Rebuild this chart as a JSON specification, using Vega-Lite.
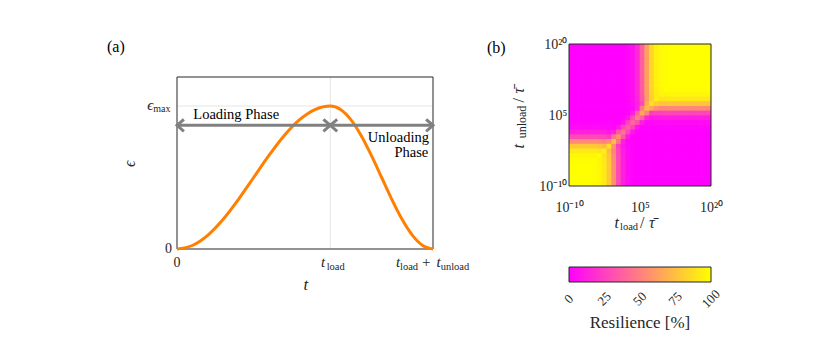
{
"$schema":"https://vega.github.io/schema/vega-lite/v6.json",
"background":"white",
"padding":{"left":107,"top":37,"right":5,"bottom":5},
"autosize":{"type":"pad"},
"bounds":"flush",
"spacing":136,
"config":{"view":{"stroke":null},"text":{"font":"Liberation Serif","color":"#262626"},"axis":{"labelFont":"Liberation Serif","labelColor":"#262626"}},
"resolve":{"scale":{"color":"independent"},"legend":{"color":"independent"}},
"hconcat":[
{
"width":256,"height":205,
"encoding":{
"x":{"type":"quantitative","scale":{"domain":[0,1.67],"nice":false,"zero":false},"axis":null},
"y":{"type":"quantitative","scale":{"domain":[0,1.4336],"nice":false,"zero":false},"axis":null}
},
"layer":[
{"data":{"values":[{}]},"mark":{"type":"rule","color":"#dedede","strokeWidth":0.8},"encoding":{"x":{"datum":1},"y":{"datum":0},"y2":{"datum":1.2028}}},
{"data":{"values":[{}]},"mark":{"type":"rule","color":"#dedede","strokeWidth":0.8},"encoding":{"x":{"datum":0},"x2":{"datum":1.67},"y":{"datum":1}}},
{"data":{"values":[{}]},"mark":{"type":"rect","fillOpacity":0,"stroke":"#262626","strokeWidth":1},"encoding":{"x":{"datum":0},"x2":{"datum":1.67},"y":{"datum":0},"y2":{"datum":1.2028}}},
{"data":{"values":[{"t":0,"e":0},{"t":0.1,"e":0.0245},{"t":0.2,"e":0.0955},{"t":0.3,"e":0.2061},{"t":0.4,"e":0.3455},{"t":0.5,"e":0.5},{"t":0.6,"e":0.6545},{"t":0.7,"e":0.7939},{"t":0.8,"e":0.9045},{"t":0.9,"e":0.9755},{"t":1,"e":1},{"t":1.067,"e":0.9755},{"t":1.134,"e":0.9045},{"t":1.201,"e":0.7939},{"t":1.268,"e":0.6545},{"t":1.335,"e":0.5},{"t":1.402,"e":0.3455},{"t":1.469,"e":0.2061},{"t":1.536,"e":0.0955},{"t":1.603,"e":0.0245},{"t":1.67,"e":0}]},
 "mark":{"type":"line","color":"#ff8000","strokeWidth":3,"interpolate":"monotone"},"encoding":{"x":{"field":"t"},"y":{"field":"e"}}},
{"data":{"values":[{}]},"mark":{"type":"rule","color":"#808080","strokeWidth":3},"encoding":{"x":{"datum":0},"x2":{"datum":1},"y":{"datum":0.865}}},
{"data":{"values":[{}]},"mark":{"type":"rule","color":"#808080","strokeWidth":3},"encoding":{"x":{"datum":1},"x2":{"datum":1.67},"y":{"datum":0.865}}},
{"data":{"values":[{}]},"mark":{"type":"point","shape":"M1.15,-1L0,0L1.15,1","size":144,"filled":false,"color":"#808080","strokeWidth":3,"opacity":1},"encoding":{"x":{"datum":0},"y":{"datum":0.865}}},
{"data":{"values":[{}]},"mark":{"type":"point","shape":"M-1.15,-1L0,0L-1.15,1","size":144,"filled":false,"color":"#808080","strokeWidth":3,"opacity":1},"encoding":{"x":{"datum":1},"y":{"datum":0.865}}},
{"data":{"values":[{}]},"mark":{"type":"point","shape":"M1.15,-1L0,0L1.15,1","size":144,"filled":false,"color":"#808080","strokeWidth":3,"opacity":1},"encoding":{"x":{"datum":1},"y":{"datum":0.865}}},
{"data":{"values":[{}]},"mark":{"type":"point","shape":"M-1.15,-1L0,0L-1.15,1","size":144,"filled":false,"color":"#808080","strokeWidth":3,"opacity":1},"encoding":{"x":{"datum":1.67},"y":{"datum":0.865}}},
{"data":{"values":[{}]},"mark":{"type":"text","text":"(a)","fontSize":16,"align":"left","baseline":"middle","dx":-70,"dy":-30,"color":"#000000"},"encoding":{"x":{"datum":0},"y":{"datum":1.2028}}},
{"data":{"values":[{}]},"mark":{"type":"text","text":"Loading Phase","fontSize":14.5,"align":"left","baseline":"alphabetic","dx":16.3,"dy":-6.6,"color":"#000000"},"encoding":{"x":{"datum":0},"y":{"datum":0.865}}},
{"data":{"values":[{}]},"mark":{"type":"text","text":"Unloading","fontSize":14.5,"align":"right","baseline":"alphabetic","dx":-4,"dy":16.3,"color":"#000000"},"encoding":{"x":{"datum":1.67},"y":{"datum":0.865}}},
{"data":{"values":[{}]},"mark":{"type":"text","text":"Phase","fontSize":14.5,"align":"right","baseline":"alphabetic","dx":-4.7,"dy":31.3,"color":"#000000"},"encoding":{"x":{"datum":1.67},"y":{"datum":0.865}}},
{"data":{"values":[{}]},"mark":{"type":"text","text":"0","fontSize":14,"align":"right","baseline":"middle","dx":-5},"encoding":{"x":{"datum":0},"y":{"datum":0}}},
{"data":{"values":[{}]},"mark":{"type":"text","text":"ϵ","fontSize":15,"fontStyle":"italic","align":"right","baseline":"alphabetic","dx":-23.7,"dy":4},"encoding":{"x":{"datum":0},"y":{"datum":1}}},
{"data":{"values":[{}]},"mark":{"type":"text","text":"max","fontSize":10,"align":"right","baseline":"alphabetic","dx":-6.5,"dy":6},"encoding":{"x":{"datum":0},"y":{"datum":1}}},
{"data":{"values":[{}]},"mark":{"type":"text","text":"0","fontSize":14,"align":"center","baseline":"alphabetic","dy":18},"encoding":{"x":{"datum":0},"y":{"datum":0}}},
{"data":{"values":[{}]},"mark":{"type":"text","text":"t","fontSize":15,"fontStyle":"italic","align":"left","baseline":"alphabetic","dx":-9.3,"dy":18},"encoding":{"x":{"datum":1},"y":{"datum":0}}},
{"data":{"values":[{}]},"mark":{"type":"text","text":"load","fontSize":10.5,"align":"left","baseline":"alphabetic","dx":-3.6,"dy":20.5},"encoding":{"x":{"datum":1},"y":{"datum":0}}},
{"data":{"values":[{}]},"mark":{"type":"text","text":"t","fontSize":15,"fontStyle":"italic","align":"left","baseline":"alphabetic","dx":-37,"dy":18},"encoding":{"x":{"datum":1.67},"y":{"datum":0}}},
{"data":{"values":[{}]},"mark":{"type":"text","text":"load","fontSize":10.5,"align":"left","baseline":"alphabetic","dx":-33,"dy":20.5},"encoding":{"x":{"datum":1.67},"y":{"datum":0}}},
{"data":{"values":[{}]},"mark":{"type":"text","text":"+","fontSize":15,"align":"left","baseline":"alphabetic","dx":-11,"dy":18},"encoding":{"x":{"datum":1.67},"y":{"datum":0}}},
{"data":{"values":[{}]},"mark":{"type":"text","text":"t","fontSize":15,"fontStyle":"italic","align":"left","baseline":"alphabetic","dx":3.5,"dy":18},"encoding":{"x":{"datum":1.67},"y":{"datum":0}}},
{"data":{"values":[{}]},"mark":{"type":"text","text":"unload","fontSize":10.5,"align":"left","baseline":"alphabetic","dx":7.7,"dy":20.5},"encoding":{"x":{"datum":1.67},"y":{"datum":0}}},
{"data":{"values":[{}]},"mark":{"type":"text","text":"t","fontSize":17,"fontStyle":"italic","align":"center","baseline":"alphabetic","dx":-24.5,"dy":41},"encoding":{"x":{"datum":1},"y":{"datum":0}}},
{"data":{"values":[{}]},"mark":{"type":"text","text":"ϵ","fontSize":16,"fontStyle":"italic","align":"center","baseline":"middle","angle":270,"dy":-47},"encoding":{"x":{"datum":0},"y":{"datum":0.596}}}
]
},
{
"width":142,"height":142,
"encoding":{
"x":{"type":"quantitative","scale":{"domain":[-10,20],"nice":false,"zero":false},"axis":{"title":null,"values":[-10,-5,0,5,10,15,20],"labelExpr":"datum.value == -10 ? '10⁻¹⁰' : datum.value == 5 ? '10⁵' : datum.value == 20 ? '10²⁰' : ''","domain":false,"ticks":false,"tickSize":0,"grid":false,"labelFontSize":14,"labelPadding":25,"labelBaseline":"alphabetic","labelFlush":false,"labelOverlap":false}},
"y":{"type":"quantitative","scale":{"domain":[-10,20],"nice":false,"zero":false},"axis":{"title":null,"values":[-10,-5,0,5,10,15,20],"labelExpr":"datum.value == -10 ? '10⁻¹⁰' : datum.value == 5 ? '10⁵' : datum.value == 20 ? '10²⁰' : ''","domain":false,"ticks":false,"tickSize":0,"grid":false,"labelFontSize":14,"labelPadding":2,"labelBaseline":"middle","labelFlush":false,"labelOverlap":false}}
},
"layer":[
{"data":{"values":[
{"tl":-9.5,"tu":-9.5,"r":100},{"tl":-8.5,"tu":-9.5,"r":100},{"tl":-7.5,"tu":-9.5,"r":100},{"tl":-6.5,"tu":-9.5,"r":100},{"tl":-5.5,"tu":-9.5,"r":100},{"tl":-4.5,"tu":-9.5,"r":99},{"tl":-3.5,"tu":-9.5,"r":97},{"tl":-2.5,"tu":-9.5,"r":92},{"tl":-1.5,"tu":-9.5,"r":79},{"tl":-0.5,"tu":-9.5,"r":56},{"tl":0.5,"tu":-9.5,"r":29},{"tl":1.5,"tu":-9.5,"r":12},{"tl":2.5,"tu":-9.5,"r":4},{"tl":3.5,"tu":-9.5,"r":1},{"tl":4.5,"tu":-9.5,"r":0},{"tl":5.5,"tu":-9.5,"r":0},{"tl":6.5,"tu":-9.5,"r":0},{"tl":7.5,"tu":-9.5,"r":0},{"tl":8.5,"tu":-9.5,"r":0},{"tl":9.5,"tu":-9.5,"r":0},{"tl":10.5,"tu":-9.5,"r":0},{"tl":11.5,"tu":-9.5,"r":0},{"tl":12.5,"tu":-9.5,"r":0},{"tl":13.5,"tu":-9.5,"r":0},{"tl":14.5,"tu":-9.5,"r":0},{"tl":15.5,"tu":-9.5,"r":0},{"tl":16.5,"tu":-9.5,"r":0},{"tl":17.5,"tu":-9.5,"r":0},{"tl":18.5,"tu":-9.5,"r":0},{"tl":19.5,"tu":-9.5,"r":0},
{"tl":-9.5,"tu":-8.5,"r":100},{"tl":-8.5,"tu":-8.5,"r":100},{"tl":-7.5,"tu":-8.5,"r":100},{"tl":-6.5,"tu":-8.5,"r":100},{"tl":-5.5,"tu":-8.5,"r":100},{"tl":-4.5,"tu":-8.5,"r":99},{"tl":-3.5,"tu":-8.5,"r":97},{"tl":-2.5,"tu":-8.5,"r":92},{"tl":-1.5,"tu":-8.5,"r":79},{"tl":-0.5,"tu":-8.5,"r":56},{"tl":0.5,"tu":-8.5,"r":29},{"tl":1.5,"tu":-8.5,"r":12},{"tl":2.5,"tu":-8.5,"r":4},{"tl":3.5,"tu":-8.5,"r":1},{"tl":4.5,"tu":-8.5,"r":0},{"tl":5.5,"tu":-8.5,"r":0},{"tl":6.5,"tu":-8.5,"r":0},{"tl":7.5,"tu":-8.5,"r":0},{"tl":8.5,"tu":-8.5,"r":0},{"tl":9.5,"tu":-8.5,"r":0},{"tl":10.5,"tu":-8.5,"r":0},{"tl":11.5,"tu":-8.5,"r":0},{"tl":12.5,"tu":-8.5,"r":0},{"tl":13.5,"tu":-8.5,"r":0},{"tl":14.5,"tu":-8.5,"r":0},{"tl":15.5,"tu":-8.5,"r":0},{"tl":16.5,"tu":-8.5,"r":0},{"tl":17.5,"tu":-8.5,"r":0},{"tl":18.5,"tu":-8.5,"r":0},{"tl":19.5,"tu":-8.5,"r":0},
{"tl":-9.5,"tu":-7.5,"r":100},{"tl":-8.5,"tu":-7.5,"r":100},{"tl":-7.5,"tu":-7.5,"r":100},{"tl":-6.5,"tu":-7.5,"r":100},{"tl":-5.5,"tu":-7.5,"r":100},{"tl":-4.5,"tu":-7.5,"r":99},{"tl":-3.5,"tu":-7.5,"r":97},{"tl":-2.5,"tu":-7.5,"r":92},{"tl":-1.5,"tu":-7.5,"r":79},{"tl":-0.5,"tu":-7.5,"r":56},{"tl":0.5,"tu":-7.5,"r":29},{"tl":1.5,"tu":-7.5,"r":12},{"tl":2.5,"tu":-7.5,"r":4},{"tl":3.5,"tu":-7.5,"r":1},{"tl":4.5,"tu":-7.5,"r":0},{"tl":5.5,"tu":-7.5,"r":0},{"tl":6.5,"tu":-7.5,"r":0},{"tl":7.5,"tu":-7.5,"r":0},{"tl":8.5,"tu":-7.5,"r":0},{"tl":9.5,"tu":-7.5,"r":0},{"tl":10.5,"tu":-7.5,"r":0},{"tl":11.5,"tu":-7.5,"r":0},{"tl":12.5,"tu":-7.5,"r":0},{"tl":13.5,"tu":-7.5,"r":0},{"tl":14.5,"tu":-7.5,"r":0},{"tl":15.5,"tu":-7.5,"r":0},{"tl":16.5,"tu":-7.5,"r":0},{"tl":17.5,"tu":-7.5,"r":0},{"tl":18.5,"tu":-7.5,"r":0},{"tl":19.5,"tu":-7.5,"r":0},
{"tl":-9.5,"tu":-6.5,"r":100},{"tl":-8.5,"tu":-6.5,"r":100},{"tl":-7.5,"tu":-6.5,"r":100},{"tl":-6.5,"tu":-6.5,"r":100},{"tl":-5.5,"tu":-6.5,"r":100},{"tl":-4.5,"tu":-6.5,"r":99},{"tl":-3.5,"tu":-6.5,"r":97},{"tl":-2.5,"tu":-6.5,"r":92},{"tl":-1.5,"tu":-6.5,"r":79},{"tl":-0.5,"tu":-6.5,"r":56},{"tl":0.5,"tu":-6.5,"r":29},{"tl":1.5,"tu":-6.5,"r":12},{"tl":2.5,"tu":-6.5,"r":4},{"tl":3.5,"tu":-6.5,"r":1},{"tl":4.5,"tu":-6.5,"r":0},{"tl":5.5,"tu":-6.5,"r":0},{"tl":6.5,"tu":-6.5,"r":0},{"tl":7.5,"tu":-6.5,"r":0},{"tl":8.5,"tu":-6.5,"r":0},{"tl":9.5,"tu":-6.5,"r":0},{"tl":10.5,"tu":-6.5,"r":0},{"tl":11.5,"tu":-6.5,"r":0},{"tl":12.5,"tu":-6.5,"r":0},{"tl":13.5,"tu":-6.5,"r":0},{"tl":14.5,"tu":-6.5,"r":0},{"tl":15.5,"tu":-6.5,"r":0},{"tl":16.5,"tu":-6.5,"r":0},{"tl":17.5,"tu":-6.5,"r":0},{"tl":18.5,"tu":-6.5,"r":0},{"tl":19.5,"tu":-6.5,"r":0},
{"tl":-9.5,"tu":-5.5,"r":100},{"tl":-8.5,"tu":-5.5,"r":100},{"tl":-7.5,"tu":-5.5,"r":100},{"tl":-6.5,"tu":-5.5,"r":100},{"tl":-5.5,"tu":-5.5,"r":100},{"tl":-4.5,"tu":-5.5,"r":99},{"tl":-3.5,"tu":-5.5,"r":97},{"tl":-2.5,"tu":-5.5,"r":92},{"tl":-1.5,"tu":-5.5,"r":79},{"tl":-0.5,"tu":-5.5,"r":56},{"tl":0.5,"tu":-5.5,"r":29},{"tl":1.5,"tu":-5.5,"r":12},{"tl":2.5,"tu":-5.5,"r":4},{"tl":3.5,"tu":-5.5,"r":1},{"tl":4.5,"tu":-5.5,"r":0},{"tl":5.5,"tu":-5.5,"r":0},{"tl":6.5,"tu":-5.5,"r":0},{"tl":7.5,"tu":-5.5,"r":0},{"tl":8.5,"tu":-5.5,"r":0},{"tl":9.5,"tu":-5.5,"r":0},{"tl":10.5,"tu":-5.5,"r":0},{"tl":11.5,"tu":-5.5,"r":0},{"tl":12.5,"tu":-5.5,"r":0},{"tl":13.5,"tu":-5.5,"r":0},{"tl":14.5,"tu":-5.5,"r":0},{"tl":15.5,"tu":-5.5,"r":0},{"tl":16.5,"tu":-5.5,"r":0},{"tl":17.5,"tu":-5.5,"r":0},{"tl":18.5,"tu":-5.5,"r":0},{"tl":19.5,"tu":-5.5,"r":0},
{"tl":-9.5,"tu":-4.5,"r":99},{"tl":-8.5,"tu":-4.5,"r":99},{"tl":-7.5,"tu":-4.5,"r":99},{"tl":-6.5,"tu":-4.5,"r":99},{"tl":-5.5,"tu":-4.5,"r":99},{"tl":-4.5,"tu":-4.5,"r":100},{"tl":-3.5,"tu":-4.5,"r":96},{"tl":-2.5,"tu":-4.5,"r":91},{"tl":-1.5,"tu":-4.5,"r":78},{"tl":-0.5,"tu":-4.5,"r":55},{"tl":0.5,"tu":-4.5,"r":29},{"tl":1.5,"tu":-4.5,"r":12},{"tl":2.5,"tu":-4.5,"r":4},{"tl":3.5,"tu":-4.5,"r":1},{"tl":4.5,"tu":-4.5,"r":0},{"tl":5.5,"tu":-4.5,"r":0},{"tl":6.5,"tu":-4.5,"r":0},{"tl":7.5,"tu":-4.5,"r":0},{"tl":8.5,"tu":-4.5,"r":0},{"tl":9.5,"tu":-4.5,"r":0},{"tl":10.5,"tu":-4.5,"r":0},{"tl":11.5,"tu":-4.5,"r":0},{"tl":12.5,"tu":-4.5,"r":0},{"tl":13.5,"tu":-4.5,"r":0},{"tl":14.5,"tu":-4.5,"r":0},{"tl":15.5,"tu":-4.5,"r":0},{"tl":16.5,"tu":-4.5,"r":0},{"tl":17.5,"tu":-4.5,"r":0},{"tl":18.5,"tu":-4.5,"r":0},{"tl":19.5,"tu":-4.5,"r":0},
{"tl":-9.5,"tu":-3.5,"r":97},{"tl":-8.5,"tu":-3.5,"r":97},{"tl":-7.5,"tu":-3.5,"r":97},{"tl":-6.5,"tu":-3.5,"r":97},{"tl":-5.5,"tu":-3.5,"r":97},{"tl":-4.5,"tu":-3.5,"r":97},{"tl":-3.5,"tu":-3.5,"r":98},{"tl":-2.5,"tu":-3.5,"r":89},{"tl":-1.5,"tu":-3.5,"r":77},{"tl":-0.5,"tu":-3.5,"r":54},{"tl":0.5,"tu":-3.5,"r":28},{"tl":1.5,"tu":-3.5,"r":12},{"tl":2.5,"tu":-3.5,"r":4},{"tl":3.5,"tu":-3.5,"r":1},{"tl":4.5,"tu":-3.5,"r":0},{"tl":5.5,"tu":-3.5,"r":0},{"tl":6.5,"tu":-3.5,"r":0},{"tl":7.5,"tu":-3.5,"r":0},{"tl":8.5,"tu":-3.5,"r":0},{"tl":9.5,"tu":-3.5,"r":0},{"tl":10.5,"tu":-3.5,"r":0},{"tl":11.5,"tu":-3.5,"r":0},{"tl":12.5,"tu":-3.5,"r":0},{"tl":13.5,"tu":-3.5,"r":0},{"tl":14.5,"tu":-3.5,"r":0},{"tl":15.5,"tu":-3.5,"r":0},{"tl":16.5,"tu":-3.5,"r":0},{"tl":17.5,"tu":-3.5,"r":0},{"tl":18.5,"tu":-3.5,"r":0},{"tl":19.5,"tu":-3.5,"r":0},
{"tl":-9.5,"tu":-2.5,"r":92},{"tl":-8.5,"tu":-2.5,"r":92},{"tl":-7.5,"tu":-2.5,"r":92},{"tl":-6.5,"tu":-2.5,"r":92},{"tl":-5.5,"tu":-2.5,"r":92},{"tl":-4.5,"tu":-2.5,"r":92},{"tl":-3.5,"tu":-2.5,"r":89},{"tl":-2.5,"tu":-2.5,"r":95},{"tl":-1.5,"tu":-2.5,"r":73},{"tl":-0.5,"tu":-2.5,"r":51},{"tl":0.5,"tu":-2.5,"r":27},{"tl":1.5,"tu":-2.5,"r":11},{"tl":2.5,"tu":-2.5,"r":4},{"tl":3.5,"tu":-2.5,"r":1},{"tl":4.5,"tu":-2.5,"r":0},{"tl":5.5,"tu":-2.5,"r":0},{"tl":6.5,"tu":-2.5,"r":0},{"tl":7.5,"tu":-2.5,"r":0},{"tl":8.5,"tu":-2.5,"r":0},{"tl":9.5,"tu":-2.5,"r":0},{"tl":10.5,"tu":-2.5,"r":0},{"tl":11.5,"tu":-2.5,"r":0},{"tl":12.5,"tu":-2.5,"r":0},{"tl":13.5,"tu":-2.5,"r":0},{"tl":14.5,"tu":-2.5,"r":0},{"tl":15.5,"tu":-2.5,"r":0},{"tl":16.5,"tu":-2.5,"r":0},{"tl":17.5,"tu":-2.5,"r":0},{"tl":18.5,"tu":-2.5,"r":0},{"tl":19.5,"tu":-2.5,"r":0},
{"tl":-9.5,"tu":-1.5,"r":79},{"tl":-8.5,"tu":-1.5,"r":79},{"tl":-7.5,"tu":-1.5,"r":79},{"tl":-6.5,"tu":-1.5,"r":79},{"tl":-5.5,"tu":-1.5,"r":79},{"tl":-4.5,"tu":-1.5,"r":79},{"tl":-3.5,"tu":-1.5,"r":77},{"tl":-2.5,"tu":-1.5,"r":73},{"tl":-1.5,"tu":-1.5,"r":88},{"tl":-0.5,"tu":-1.5,"r":56},{"tl":0.5,"tu":-1.5,"r":23},{"tl":1.5,"tu":-1.5,"r":9},{"tl":2.5,"tu":-1.5,"r":3},{"tl":3.5,"tu":-1.5,"r":1},{"tl":4.5,"tu":-1.5,"r":0},{"tl":5.5,"tu":-1.5,"r":0},{"tl":6.5,"tu":-1.5,"r":0},{"tl":7.5,"tu":-1.5,"r":0},{"tl":8.5,"tu":-1.5,"r":0},{"tl":9.5,"tu":-1.5,"r":0},{"tl":10.5,"tu":-1.5,"r":0},{"tl":11.5,"tu":-1.5,"r":0},{"tl":12.5,"tu":-1.5,"r":0},{"tl":13.5,"tu":-1.5,"r":0},{"tl":14.5,"tu":-1.5,"r":0},{"tl":15.5,"tu":-1.5,"r":0},{"tl":16.5,"tu":-1.5,"r":0},{"tl":17.5,"tu":-1.5,"r":0},{"tl":18.5,"tu":-1.5,"r":0},{"tl":19.5,"tu":-1.5,"r":0},
{"tl":-9.5,"tu":-0.5,"r":55},{"tl":-8.5,"tu":-0.5,"r":55},{"tl":-7.5,"tu":-0.5,"r":55},{"tl":-6.5,"tu":-0.5,"r":55},{"tl":-5.5,"tu":-0.5,"r":55},{"tl":-4.5,"tu":-0.5,"r":55},{"tl":-3.5,"tu":-0.5,"r":54},{"tl":-2.5,"tu":-0.5,"r":51},{"tl":-1.5,"tu":-0.5,"r":56},{"tl":-0.5,"tu":-0.5,"r":75},{"tl":0.5,"tu":-0.5,"r":45},{"tl":1.5,"tu":-0.5,"r":12},{"tl":2.5,"tu":-0.5,"r":2},{"tl":3.5,"tu":-0.5,"r":1},{"tl":4.5,"tu":-0.5,"r":0},{"tl":5.5,"tu":-0.5,"r":0},{"tl":6.5,"tu":-0.5,"r":0},{"tl":7.5,"tu":-0.5,"r":0},{"tl":8.5,"tu":-0.5,"r":0},{"tl":9.5,"tu":-0.5,"r":0},{"tl":10.5,"tu":-0.5,"r":0},{"tl":11.5,"tu":-0.5,"r":0},{"tl":12.5,"tu":-0.5,"r":0},{"tl":13.5,"tu":-0.5,"r":0},{"tl":14.5,"tu":-0.5,"r":0},{"tl":15.5,"tu":-0.5,"r":0},{"tl":16.5,"tu":-0.5,"r":0},{"tl":17.5,"tu":-0.5,"r":0},{"tl":18.5,"tu":-0.5,"r":0},{"tl":19.5,"tu":-0.5,"r":0},
{"tl":-9.5,"tu":0.5,"r":29},{"tl":-8.5,"tu":0.5,"r":29},{"tl":-7.5,"tu":0.5,"r":29},{"tl":-6.5,"tu":0.5,"r":29},{"tl":-5.5,"tu":0.5,"r":29},{"tl":-4.5,"tu":0.5,"r":29},{"tl":-3.5,"tu":0.5,"r":28},{"tl":-2.5,"tu":0.5,"r":27},{"tl":-1.5,"tu":0.5,"r":23},{"tl":-0.5,"tu":0.5,"r":45},{"tl":0.5,"tu":0.5,"r":58},{"tl":1.5,"tu":0.5,"r":35},{"tl":2.5,"tu":0.5,"r":9},{"tl":3.5,"tu":0.5,"r":1},{"tl":4.5,"tu":0.5,"r":0},{"tl":5.5,"tu":0.5,"r":0},{"tl":6.5,"tu":0.5,"r":0},{"tl":7.5,"tu":0.5,"r":0},{"tl":8.5,"tu":0.5,"r":0},{"tl":9.5,"tu":0.5,"r":0},{"tl":10.5,"tu":0.5,"r":0},{"tl":11.5,"tu":0.5,"r":0},{"tl":12.5,"tu":0.5,"r":0},{"tl":13.5,"tu":0.5,"r":0},{"tl":14.5,"tu":0.5,"r":0},{"tl":15.5,"tu":0.5,"r":0},{"tl":16.5,"tu":0.5,"r":0},{"tl":17.5,"tu":0.5,"r":0},{"tl":18.5,"tu":0.5,"r":0},{"tl":19.5,"tu":0.5,"r":0},
{"tl":-9.5,"tu":1.5,"r":12},{"tl":-8.5,"tu":1.5,"r":12},{"tl":-7.5,"tu":1.5,"r":12},{"tl":-6.5,"tu":1.5,"r":12},{"tl":-5.5,"tu":1.5,"r":12},{"tl":-4.5,"tu":1.5,"r":12},{"tl":-3.5,"tu":1.5,"r":12},{"tl":-2.5,"tu":1.5,"r":11},{"tl":-1.5,"tu":1.5,"r":9},{"tl":-0.5,"tu":1.5,"r":12},{"tl":0.5,"tu":1.5,"r":35},{"tl":1.5,"tu":1.5,"r":45},{"tl":2.5,"tu":1.5,"r":28},{"tl":3.5,"tu":1.5,"r":8},{"tl":4.5,"tu":1.5,"r":1},{"tl":5.5,"tu":1.5,"r":0},{"tl":6.5,"tu":1.5,"r":0},{"tl":7.5,"tu":1.5,"r":0},{"tl":8.5,"tu":1.5,"r":0},{"tl":9.5,"tu":1.5,"r":0},{"tl":10.5,"tu":1.5,"r":0},{"tl":11.5,"tu":1.5,"r":0},{"tl":12.5,"tu":1.5,"r":0},{"tl":13.5,"tu":1.5,"r":0},{"tl":14.5,"tu":1.5,"r":0},{"tl":15.5,"tu":1.5,"r":0},{"tl":16.5,"tu":1.5,"r":0},{"tl":17.5,"tu":1.5,"r":0},{"tl":18.5,"tu":1.5,"r":0},{"tl":19.5,"tu":1.5,"r":0},
{"tl":-9.5,"tu":2.5,"r":4},{"tl":-8.5,"tu":2.5,"r":4},{"tl":-7.5,"tu":2.5,"r":4},{"tl":-6.5,"tu":2.5,"r":4},{"tl":-5.5,"tu":2.5,"r":4},{"tl":-4.5,"tu":2.5,"r":4},{"tl":-3.5,"tu":2.5,"r":4},{"tl":-2.5,"tu":2.5,"r":4},{"tl":-1.5,"tu":2.5,"r":3},{"tl":-0.5,"tu":2.5,"r":2},{"tl":0.5,"tu":2.5,"r":9},{"tl":1.5,"tu":2.5,"r":28},{"tl":2.5,"tu":2.5,"r":38},{"tl":3.5,"tu":2.5,"r":26},{"tl":4.5,"tu":2.5,"r":8},{"tl":5.5,"tu":2.5,"r":1},{"tl":6.5,"tu":2.5,"r":1},{"tl":7.5,"tu":2.5,"r":1},{"tl":8.5,"tu":2.5,"r":1},{"tl":9.5,"tu":2.5,"r":1},{"tl":10.5,"tu":2.5,"r":1},{"tl":11.5,"tu":2.5,"r":1},{"tl":12.5,"tu":2.5,"r":1},{"tl":13.5,"tu":2.5,"r":1},{"tl":14.5,"tu":2.5,"r":1},{"tl":15.5,"tu":2.5,"r":1},{"tl":16.5,"tu":2.5,"r":1},{"tl":17.5,"tu":2.5,"r":1},{"tl":18.5,"tu":2.5,"r":1},{"tl":19.5,"tu":2.5,"r":1},
{"tl":-9.5,"tu":3.5,"r":1},{"tl":-8.5,"tu":3.5,"r":1},{"tl":-7.5,"tu":3.5,"r":1},{"tl":-6.5,"tu":3.5,"r":1},{"tl":-5.5,"tu":3.5,"r":1},{"tl":-4.5,"tu":3.5,"r":1},{"tl":-3.5,"tu":3.5,"r":1},{"tl":-2.5,"tu":3.5,"r":1},{"tl":-1.5,"tu":3.5,"r":1},{"tl":-0.5,"tu":3.5,"r":1},{"tl":0.5,"tu":3.5,"r":1},{"tl":1.5,"tu":3.5,"r":8},{"tl":2.5,"tu":3.5,"r":26},{"tl":3.5,"tu":3.5,"r":40},{"tl":4.5,"tu":3.5,"r":31},{"tl":5.5,"tu":3.5,"r":11},{"tl":6.5,"tu":3.5,"r":3},{"tl":7.5,"tu":3.5,"r":3},{"tl":8.5,"tu":3.5,"r":4},{"tl":9.5,"tu":3.5,"r":4},{"tl":10.5,"tu":3.5,"r":4},{"tl":11.5,"tu":3.5,"r":4},{"tl":12.5,"tu":3.5,"r":4},{"tl":13.5,"tu":3.5,"r":4},{"tl":14.5,"tu":3.5,"r":4},{"tl":15.5,"tu":3.5,"r":4},{"tl":16.5,"tu":3.5,"r":4},{"tl":17.5,"tu":3.5,"r":4},{"tl":18.5,"tu":3.5,"r":4},{"tl":19.5,"tu":3.5,"r":4},
{"tl":-9.5,"tu":4.5,"r":0},{"tl":-8.5,"tu":4.5,"r":0},{"tl":-7.5,"tu":4.5,"r":0},{"tl":-6.5,"tu":4.5,"r":0},{"tl":-5.5,"tu":4.5,"r":0},{"tl":-4.5,"tu":4.5,"r":0},{"tl":-3.5,"tu":4.5,"r":0},{"tl":-2.5,"tu":4.5,"r":0},{"tl":-1.5,"tu":4.5,"r":0},{"tl":-0.5,"tu":4.5,"r":0},{"tl":0.5,"tu":4.5,"r":0},{"tl":1.5,"tu":4.5,"r":1},{"tl":2.5,"tu":4.5,"r":8},{"tl":3.5,"tu":4.5,"r":31},{"tl":4.5,"tu":4.5,"r":50},{"tl":5.5,"tu":4.5,"r":39},{"tl":6.5,"tu":4.5,"r":14},{"tl":7.5,"tu":4.5,"r":9},{"tl":8.5,"tu":4.5,"r":10},{"tl":9.5,"tu":4.5,"r":11},{"tl":10.5,"tu":4.5,"r":11},{"tl":11.5,"tu":4.5,"r":11},{"tl":12.5,"tu":4.5,"r":11},{"tl":13.5,"tu":4.5,"r":11},{"tl":14.5,"tu":4.5,"r":11},{"tl":15.5,"tu":4.5,"r":11},{"tl":16.5,"tu":4.5,"r":11},{"tl":17.5,"tu":4.5,"r":11},{"tl":18.5,"tu":4.5,"r":11},{"tl":19.5,"tu":4.5,"r":11},
{"tl":-9.5,"tu":5.5,"r":0},{"tl":-8.5,"tu":5.5,"r":0},{"tl":-7.5,"tu":5.5,"r":0},{"tl":-6.5,"tu":5.5,"r":0},{"tl":-5.5,"tu":5.5,"r":0},{"tl":-4.5,"tu":5.5,"r":0},{"tl":-3.5,"tu":5.5,"r":0},{"tl":-2.5,"tu":5.5,"r":0},{"tl":-1.5,"tu":5.5,"r":0},{"tl":-0.5,"tu":5.5,"r":0},{"tl":0.5,"tu":5.5,"r":0},{"tl":1.5,"tu":5.5,"r":0},{"tl":2.5,"tu":5.5,"r":1},{"tl":3.5,"tu":5.5,"r":11},{"tl":4.5,"tu":5.5,"r":39},{"tl":5.5,"tu":5.5,"r":65},{"tl":6.5,"tu":5.5,"r":50},{"tl":7.5,"tu":5.5,"r":23},{"tl":8.5,"tu":5.5,"r":25},{"tl":9.5,"tu":5.5,"r":26},{"tl":10.5,"tu":5.5,"r":27},{"tl":11.5,"tu":5.5,"r":27},{"tl":12.5,"tu":5.5,"r":27},{"tl":13.5,"tu":5.5,"r":27},{"tl":14.5,"tu":5.5,"r":27},{"tl":15.5,"tu":5.5,"r":27},{"tl":16.5,"tu":5.5,"r":27},{"tl":17.5,"tu":5.5,"r":27},{"tl":18.5,"tu":5.5,"r":27},{"tl":19.5,"tu":5.5,"r":27},
{"tl":-9.5,"tu":6.5,"r":0},{"tl":-8.5,"tu":6.5,"r":0},{"tl":-7.5,"tu":6.5,"r":0},{"tl":-6.5,"tu":6.5,"r":0},{"tl":-5.5,"tu":6.5,"r":0},{"tl":-4.5,"tu":6.5,"r":0},{"tl":-3.5,"tu":6.5,"r":0},{"tl":-2.5,"tu":6.5,"r":0},{"tl":-1.5,"tu":6.5,"r":0},{"tl":-0.5,"tu":6.5,"r":0},{"tl":0.5,"tu":6.5,"r":0},{"tl":1.5,"tu":6.5,"r":0},{"tl":2.5,"tu":6.5,"r":1},{"tl":3.5,"tu":6.5,"r":3},{"tl":4.5,"tu":6.5,"r":14},{"tl":5.5,"tu":6.5,"r":50},{"tl":6.5,"tu":6.5,"r":75},{"tl":7.5,"tu":6.5,"r":66},{"tl":8.5,"tu":6.5,"r":56},{"tl":9.5,"tu":6.5,"r":52},{"tl":10.5,"tu":6.5,"r":52},{"tl":11.5,"tu":6.5,"r":53},{"tl":12.5,"tu":6.5,"r":53},{"tl":13.5,"tu":6.5,"r":53},{"tl":14.5,"tu":6.5,"r":53},{"tl":15.5,"tu":6.5,"r":53},{"tl":16.5,"tu":6.5,"r":53},{"tl":17.5,"tu":6.5,"r":53},{"tl":18.5,"tu":6.5,"r":53},{"tl":19.5,"tu":6.5,"r":53},
{"tl":-9.5,"tu":7.5,"r":0},{"tl":-8.5,"tu":7.5,"r":0},{"tl":-7.5,"tu":7.5,"r":0},{"tl":-6.5,"tu":7.5,"r":0},{"tl":-5.5,"tu":7.5,"r":0},{"tl":-4.5,"tu":7.5,"r":0},{"tl":-3.5,"tu":7.5,"r":0},{"tl":-2.5,"tu":7.5,"r":0},{"tl":-1.5,"tu":7.5,"r":0},{"tl":-0.5,"tu":7.5,"r":0},{"tl":0.5,"tu":7.5,"r":0},{"tl":1.5,"tu":7.5,"r":0},{"tl":2.5,"tu":7.5,"r":1},{"tl":3.5,"tu":7.5,"r":5},{"tl":4.5,"tu":7.5,"r":12},{"tl":5.5,"tu":7.5,"r":28},{"tl":6.5,"tu":7.5,"r":68},{"tl":7.5,"tu":7.5,"r":88},{"tl":8.5,"tu":7.5,"r":80},{"tl":9.5,"tu":7.5,"r":77},{"tl":10.5,"tu":7.5,"r":77},{"tl":11.5,"tu":7.5,"r":77},{"tl":12.5,"tu":7.5,"r":77},{"tl":13.5,"tu":7.5,"r":77},{"tl":14.5,"tu":7.5,"r":77},{"tl":15.5,"tu":7.5,"r":77},{"tl":16.5,"tu":7.5,"r":77},{"tl":17.5,"tu":7.5,"r":77},{"tl":18.5,"tu":7.5,"r":77},{"tl":19.5,"tu":7.5,"r":77},
{"tl":-9.5,"tu":8.5,"r":0},{"tl":-8.5,"tu":8.5,"r":0},{"tl":-7.5,"tu":8.5,"r":0},{"tl":-6.5,"tu":8.5,"r":0},{"tl":-5.5,"tu":8.5,"r":0},{"tl":-4.5,"tu":8.5,"r":0},{"tl":-3.5,"tu":8.5,"r":0},{"tl":-2.5,"tu":8.5,"r":0},{"tl":-1.5,"tu":8.5,"r":0},{"tl":-0.5,"tu":8.5,"r":0},{"tl":0.5,"tu":8.5,"r":0},{"tl":1.5,"tu":8.5,"r":0},{"tl":2.5,"tu":8.5,"r":2},{"tl":3.5,"tu":8.5,"r":5},{"tl":4.5,"tu":8.5,"r":15},{"tl":5.5,"tu":8.5,"r":33},{"tl":6.5,"tu":8.5,"r":62},{"tl":7.5,"tu":8.5,"r":80},{"tl":8.5,"tu":8.5,"r":94},{"tl":9.5,"tu":8.5,"r":90},{"tl":10.5,"tu":8.5,"r":90},{"tl":11.5,"tu":8.5,"r":91},{"tl":12.5,"tu":8.5,"r":91},{"tl":13.5,"tu":8.5,"r":91},{"tl":14.5,"tu":8.5,"r":91},{"tl":15.5,"tu":8.5,"r":91},{"tl":16.5,"tu":8.5,"r":91},{"tl":17.5,"tu":8.5,"r":91},{"tl":18.5,"tu":8.5,"r":91},{"tl":19.5,"tu":8.5,"r":91},
{"tl":-9.5,"tu":9.5,"r":0},{"tl":-8.5,"tu":9.5,"r":0},{"tl":-7.5,"tu":9.5,"r":0},{"tl":-6.5,"tu":9.5,"r":0},{"tl":-5.5,"tu":9.5,"r":0},{"tl":-4.5,"tu":9.5,"r":0},{"tl":-3.5,"tu":9.5,"r":0},{"tl":-2.5,"tu":9.5,"r":0},{"tl":-1.5,"tu":9.5,"r":0},{"tl":-0.5,"tu":9.5,"r":0},{"tl":0.5,"tu":9.5,"r":0},{"tl":1.5,"tu":9.5,"r":0},{"tl":2.5,"tu":9.5,"r":2},{"tl":3.5,"tu":9.5,"r":6},{"tl":4.5,"tu":9.5,"r":16},{"tl":5.5,"tu":9.5,"r":35},{"tl":6.5,"tu":9.5,"r":63},{"tl":7.5,"tu":9.5,"r":82},{"tl":8.5,"tu":9.5,"r":92},{"tl":9.5,"tu":9.5,"r":97},{"tl":10.5,"tu":9.5,"r":96},{"tl":11.5,"tu":9.5,"r":97},{"tl":12.5,"tu":9.5,"r":97},{"tl":13.5,"tu":9.5,"r":97},{"tl":14.5,"tu":9.5,"r":97},{"tl":15.5,"tu":9.5,"r":97},{"tl":16.5,"tu":9.5,"r":97},{"tl":17.5,"tu":9.5,"r":97},{"tl":18.5,"tu":9.5,"r":97},{"tl":19.5,"tu":9.5,"r":97},
{"tl":-9.5,"tu":10.5,"r":0},{"tl":-8.5,"tu":10.5,"r":0},{"tl":-7.5,"tu":10.5,"r":0},{"tl":-6.5,"tu":10.5,"r":0},{"tl":-5.5,"tu":10.5,"r":0},{"tl":-4.5,"tu":10.5,"r":0},{"tl":-3.5,"tu":10.5,"r":0},{"tl":-2.5,"tu":10.5,"r":0},{"tl":-1.5,"tu":10.5,"r":0},{"tl":-0.5,"tu":10.5,"r":0},{"tl":0.5,"tu":10.5,"r":0},{"tl":1.5,"tu":10.5,"r":0},{"tl":2.5,"tu":10.5,"r":2},{"tl":3.5,"tu":10.5,"r":6},{"tl":4.5,"tu":10.5,"r":16},{"tl":5.5,"tu":10.5,"r":36},{"tl":6.5,"tu":10.5,"r":63},{"tl":7.5,"tu":10.5,"r":83},{"tl":8.5,"tu":10.5,"r":93},{"tl":9.5,"tu":10.5,"r":97},{"tl":10.5,"tu":10.5,"r":100},{"tl":11.5,"tu":10.5,"r":99},{"tl":12.5,"tu":10.5,"r":99},{"tl":13.5,"tu":10.5,"r":99},{"tl":14.5,"tu":10.5,"r":99},{"tl":15.5,"tu":10.5,"r":99},{"tl":16.5,"tu":10.5,"r":99},{"tl":17.5,"tu":10.5,"r":99},{"tl":18.5,"tu":10.5,"r":99},{"tl":19.5,"tu":10.5,"r":99},
{"tl":-9.5,"tu":11.5,"r":0},{"tl":-8.5,"tu":11.5,"r":0},{"tl":-7.5,"tu":11.5,"r":0},{"tl":-6.5,"tu":11.5,"r":0},{"tl":-5.5,"tu":11.5,"r":0},{"tl":-4.5,"tu":11.5,"r":0},{"tl":-3.5,"tu":11.5,"r":0},{"tl":-2.5,"tu":11.5,"r":0},{"tl":-1.5,"tu":11.5,"r":0},{"tl":-0.5,"tu":11.5,"r":0},{"tl":0.5,"tu":11.5,"r":0},{"tl":1.5,"tu":11.5,"r":0},{"tl":2.5,"tu":11.5,"r":2},{"tl":3.5,"tu":11.5,"r":6},{"tl":4.5,"tu":11.5,"r":16},{"tl":5.5,"tu":11.5,"r":37},{"tl":6.5,"tu":11.5,"r":64},{"tl":7.5,"tu":11.5,"r":84},{"tl":8.5,"tu":11.5,"r":94},{"tl":9.5,"tu":11.5,"r":98},{"tl":10.5,"tu":11.5,"r":99},{"tl":11.5,"tu":11.5,"r":100},{"tl":12.5,"tu":11.5,"r":100},{"tl":13.5,"tu":11.5,"r":100},{"tl":14.5,"tu":11.5,"r":100},{"tl":15.5,"tu":11.5,"r":100},{"tl":16.5,"tu":11.5,"r":100},{"tl":17.5,"tu":11.5,"r":100},{"tl":18.5,"tu":11.5,"r":100},{"tl":19.5,"tu":11.5,"r":100},
{"tl":-9.5,"tu":12.5,"r":0},{"tl":-8.5,"tu":12.5,"r":0},{"tl":-7.5,"tu":12.5,"r":0},{"tl":-6.5,"tu":12.5,"r":0},{"tl":-5.5,"tu":12.5,"r":0},{"tl":-4.5,"tu":12.5,"r":0},{"tl":-3.5,"tu":12.5,"r":0},{"tl":-2.5,"tu":12.5,"r":0},{"tl":-1.5,"tu":12.5,"r":0},{"tl":-0.5,"tu":12.5,"r":0},{"tl":0.5,"tu":12.5,"r":0},{"tl":1.5,"tu":12.5,"r":0},{"tl":2.5,"tu":12.5,"r":2},{"tl":3.5,"tu":12.5,"r":6},{"tl":4.5,"tu":12.5,"r":16},{"tl":5.5,"tu":12.5,"r":37},{"tl":6.5,"tu":12.5,"r":64},{"tl":7.5,"tu":12.5,"r":84},{"tl":8.5,"tu":12.5,"r":94},{"tl":9.5,"tu":12.5,"r":98},{"tl":10.5,"tu":12.5,"r":99},{"tl":11.5,"tu":12.5,"r":100},{"tl":12.5,"tu":12.5,"r":100},{"tl":13.5,"tu":12.5,"r":100},{"tl":14.5,"tu":12.5,"r":100},{"tl":15.5,"tu":12.5,"r":100},{"tl":16.5,"tu":12.5,"r":100},{"tl":17.5,"tu":12.5,"r":100},{"tl":18.5,"tu":12.5,"r":100},{"tl":19.5,"tu":12.5,"r":100},
{"tl":-9.5,"tu":13.5,"r":0},{"tl":-8.5,"tu":13.5,"r":0},{"tl":-7.5,"tu":13.5,"r":0},{"tl":-6.5,"tu":13.5,"r":0},{"tl":-5.5,"tu":13.5,"r":0},{"tl":-4.5,"tu":13.5,"r":0},{"tl":-3.5,"tu":13.5,"r":0},{"tl":-2.5,"tu":13.5,"r":0},{"tl":-1.5,"tu":13.5,"r":0},{"tl":-0.5,"tu":13.5,"r":0},{"tl":0.5,"tu":13.5,"r":0},{"tl":1.5,"tu":13.5,"r":0},{"tl":2.5,"tu":13.5,"r":2},{"tl":3.5,"tu":13.5,"r":6},{"tl":4.5,"tu":13.5,"r":16},{"tl":5.5,"tu":13.5,"r":37},{"tl":6.5,"tu":13.5,"r":64},{"tl":7.5,"tu":13.5,"r":84},{"tl":8.5,"tu":13.5,"r":94},{"tl":9.5,"tu":13.5,"r":98},{"tl":10.5,"tu":13.5,"r":99},{"tl":11.5,"tu":13.5,"r":100},{"tl":12.5,"tu":13.5,"r":100},{"tl":13.5,"tu":13.5,"r":100},{"tl":14.5,"tu":13.5,"r":100},{"tl":15.5,"tu":13.5,"r":100},{"tl":16.5,"tu":13.5,"r":100},{"tl":17.5,"tu":13.5,"r":100},{"tl":18.5,"tu":13.5,"r":100},{"tl":19.5,"tu":13.5,"r":100},
{"tl":-9.5,"tu":14.5,"r":0},{"tl":-8.5,"tu":14.5,"r":0},{"tl":-7.5,"tu":14.5,"r":0},{"tl":-6.5,"tu":14.5,"r":0},{"tl":-5.5,"tu":14.5,"r":0},{"tl":-4.5,"tu":14.5,"r":0},{"tl":-3.5,"tu":14.5,"r":0},{"tl":-2.5,"tu":14.5,"r":0},{"tl":-1.5,"tu":14.5,"r":0},{"tl":-0.5,"tu":14.5,"r":0},{"tl":0.5,"tu":14.5,"r":0},{"tl":1.5,"tu":14.5,"r":0},{"tl":2.5,"tu":14.5,"r":2},{"tl":3.5,"tu":14.5,"r":6},{"tl":4.5,"tu":14.5,"r":16},{"tl":5.5,"tu":14.5,"r":37},{"tl":6.5,"tu":14.5,"r":64},{"tl":7.5,"tu":14.5,"r":84},{"tl":8.5,"tu":14.5,"r":94},{"tl":9.5,"tu":14.5,"r":98},{"tl":10.5,"tu":14.5,"r":99},{"tl":11.5,"tu":14.5,"r":100},{"tl":12.5,"tu":14.5,"r":100},{"tl":13.5,"tu":14.5,"r":100},{"tl":14.5,"tu":14.5,"r":100},{"tl":15.5,"tu":14.5,"r":100},{"tl":16.5,"tu":14.5,"r":100},{"tl":17.5,"tu":14.5,"r":100},{"tl":18.5,"tu":14.5,"r":100},{"tl":19.5,"tu":14.5,"r":100},
{"tl":-9.5,"tu":15.5,"r":0},{"tl":-8.5,"tu":15.5,"r":0},{"tl":-7.5,"tu":15.5,"r":0},{"tl":-6.5,"tu":15.5,"r":0},{"tl":-5.5,"tu":15.5,"r":0},{"tl":-4.5,"tu":15.5,"r":0},{"tl":-3.5,"tu":15.5,"r":0},{"tl":-2.5,"tu":15.5,"r":0},{"tl":-1.5,"tu":15.5,"r":0},{"tl":-0.5,"tu":15.5,"r":0},{"tl":0.5,"tu":15.5,"r":0},{"tl":1.5,"tu":15.5,"r":0},{"tl":2.5,"tu":15.5,"r":2},{"tl":3.5,"tu":15.5,"r":6},{"tl":4.5,"tu":15.5,"r":16},{"tl":5.5,"tu":15.5,"r":37},{"tl":6.5,"tu":15.5,"r":64},{"tl":7.5,"tu":15.5,"r":84},{"tl":8.5,"tu":15.5,"r":94},{"tl":9.5,"tu":15.5,"r":98},{"tl":10.5,"tu":15.5,"r":99},{"tl":11.5,"tu":15.5,"r":100},{"tl":12.5,"tu":15.5,"r":100},{"tl":13.5,"tu":15.5,"r":100},{"tl":14.5,"tu":15.5,"r":100},{"tl":15.5,"tu":15.5,"r":100},{"tl":16.5,"tu":15.5,"r":100},{"tl":17.5,"tu":15.5,"r":100},{"tl":18.5,"tu":15.5,"r":100},{"tl":19.5,"tu":15.5,"r":100},
{"tl":-9.5,"tu":16.5,"r":0},{"tl":-8.5,"tu":16.5,"r":0},{"tl":-7.5,"tu":16.5,"r":0},{"tl":-6.5,"tu":16.5,"r":0},{"tl":-5.5,"tu":16.5,"r":0},{"tl":-4.5,"tu":16.5,"r":0},{"tl":-3.5,"tu":16.5,"r":0},{"tl":-2.5,"tu":16.5,"r":0},{"tl":-1.5,"tu":16.5,"r":0},{"tl":-0.5,"tu":16.5,"r":0},{"tl":0.5,"tu":16.5,"r":0},{"tl":1.5,"tu":16.5,"r":0},{"tl":2.5,"tu":16.5,"r":2},{"tl":3.5,"tu":16.5,"r":6},{"tl":4.5,"tu":16.5,"r":16},{"tl":5.5,"tu":16.5,"r":37},{"tl":6.5,"tu":16.5,"r":64},{"tl":7.5,"tu":16.5,"r":84},{"tl":8.5,"tu":16.5,"r":94},{"tl":9.5,"tu":16.5,"r":98},{"tl":10.5,"tu":16.5,"r":99},{"tl":11.5,"tu":16.5,"r":100},{"tl":12.5,"tu":16.5,"r":100},{"tl":13.5,"tu":16.5,"r":100},{"tl":14.5,"tu":16.5,"r":100},{"tl":15.5,"tu":16.5,"r":100},{"tl":16.5,"tu":16.5,"r":100},{"tl":17.5,"tu":16.5,"r":100},{"tl":18.5,"tu":16.5,"r":100},{"tl":19.5,"tu":16.5,"r":100},
{"tl":-9.5,"tu":17.5,"r":0},{"tl":-8.5,"tu":17.5,"r":0},{"tl":-7.5,"tu":17.5,"r":0},{"tl":-6.5,"tu":17.5,"r":0},{"tl":-5.5,"tu":17.5,"r":0},{"tl":-4.5,"tu":17.5,"r":0},{"tl":-3.5,"tu":17.5,"r":0},{"tl":-2.5,"tu":17.5,"r":0},{"tl":-1.5,"tu":17.5,"r":0},{"tl":-0.5,"tu":17.5,"r":0},{"tl":0.5,"tu":17.5,"r":0},{"tl":1.5,"tu":17.5,"r":0},{"tl":2.5,"tu":17.5,"r":2},{"tl":3.5,"tu":17.5,"r":6},{"tl":4.5,"tu":17.5,"r":16},{"tl":5.5,"tu":17.5,"r":37},{"tl":6.5,"tu":17.5,"r":64},{"tl":7.5,"tu":17.5,"r":84},{"tl":8.5,"tu":17.5,"r":94},{"tl":9.5,"tu":17.5,"r":98},{"tl":10.5,"tu":17.5,"r":99},{"tl":11.5,"tu":17.5,"r":100},{"tl":12.5,"tu":17.5,"r":100},{"tl":13.5,"tu":17.5,"r":100},{"tl":14.5,"tu":17.5,"r":100},{"tl":15.5,"tu":17.5,"r":100},{"tl":16.5,"tu":17.5,"r":100},{"tl":17.5,"tu":17.5,"r":100},{"tl":18.5,"tu":17.5,"r":100},{"tl":19.5,"tu":17.5,"r":100},
{"tl":-9.5,"tu":18.5,"r":0},{"tl":-8.5,"tu":18.5,"r":0},{"tl":-7.5,"tu":18.5,"r":0},{"tl":-6.5,"tu":18.5,"r":0},{"tl":-5.5,"tu":18.5,"r":0},{"tl":-4.5,"tu":18.5,"r":0},{"tl":-3.5,"tu":18.5,"r":0},{"tl":-2.5,"tu":18.5,"r":0},{"tl":-1.5,"tu":18.5,"r":0},{"tl":-0.5,"tu":18.5,"r":0},{"tl":0.5,"tu":18.5,"r":0},{"tl":1.5,"tu":18.5,"r":0},{"tl":2.5,"tu":18.5,"r":2},{"tl":3.5,"tu":18.5,"r":6},{"tl":4.5,"tu":18.5,"r":16},{"tl":5.5,"tu":18.5,"r":37},{"tl":6.5,"tu":18.5,"r":64},{"tl":7.5,"tu":18.5,"r":84},{"tl":8.5,"tu":18.5,"r":94},{"tl":9.5,"tu":18.5,"r":98},{"tl":10.5,"tu":18.5,"r":99},{"tl":11.5,"tu":18.5,"r":100},{"tl":12.5,"tu":18.5,"r":100},{"tl":13.5,"tu":18.5,"r":100},{"tl":14.5,"tu":18.5,"r":100},{"tl":15.5,"tu":18.5,"r":100},{"tl":16.5,"tu":18.5,"r":100},{"tl":17.5,"tu":18.5,"r":100},{"tl":18.5,"tu":18.5,"r":100},{"tl":19.5,"tu":18.5,"r":100},
{"tl":-9.5,"tu":19.5,"r":0},{"tl":-8.5,"tu":19.5,"r":0},{"tl":-7.5,"tu":19.5,"r":0},{"tl":-6.5,"tu":19.5,"r":0},{"tl":-5.5,"tu":19.5,"r":0},{"tl":-4.5,"tu":19.5,"r":0},{"tl":-3.5,"tu":19.5,"r":0},{"tl":-2.5,"tu":19.5,"r":0},{"tl":-1.5,"tu":19.5,"r":0},{"tl":-0.5,"tu":19.5,"r":0},{"tl":0.5,"tu":19.5,"r":0},{"tl":1.5,"tu":19.5,"r":0},{"tl":2.5,"tu":19.5,"r":2},{"tl":3.5,"tu":19.5,"r":6},{"tl":4.5,"tu":19.5,"r":16},{"tl":5.5,"tu":19.5,"r":37},{"tl":6.5,"tu":19.5,"r":64},{"tl":7.5,"tu":19.5,"r":84},{"tl":8.5,"tu":19.5,"r":94},{"tl":9.5,"tu":19.5,"r":98},{"tl":10.5,"tu":19.5,"r":99},{"tl":11.5,"tu":19.5,"r":100},{"tl":12.5,"tu":19.5,"r":100},{"tl":13.5,"tu":19.5,"r":100},{"tl":14.5,"tu":19.5,"r":100},{"tl":15.5,"tu":19.5,"r":100},{"tl":16.5,"tu":19.5,"r":100},{"tl":17.5,"tu":19.5,"r":100},{"tl":18.5,"tu":19.5,"r":100},{"tl":19.5,"tu":19.5,"r":100}
]},
"mark":{"type":"square","size":30,"filled":true,"opacity":1,"strokeWidth":0,"clip":true},
"encoding":{"x":{"field":"tl"},"y":{"field":"tu"},
"color":{"field":"r","type":"quantitative","scale":{"domain":[0,100],"range":["#ff00ff","#ffff00"],"interpolate":"rgb"},
"legend":{"type":"gradient","orient":"none","legendX":0,"legendY":223,"direction":"horizontal","gradientLength":142,"gradientThickness":15,"gradientStrokeColor":"#262626","gradientStrokeWidth":1,"values":[0,25,50,75,100],"labelFont":"Liberation Serif","labelFontSize":13,"labelColor":"#262626","labelOffset":17,"labelOverlap":false,"labelAlign":"center","labelBaseline":"middle","title":"Resilience [%]","titleOrient":"bottom","titleAnchor":"middle","titleFont":"Liberation Serif","titleFontSize":17,"titleFontWeight":"normal","titleColor":"#262626","titlePadding":4,"padding":0,"encoding":{"labels":{"angle":{"value":-45},"align":{"value":"center"},"baseline":{"value":"middle"}}}}}}},
{"data":{"values":[{}]},"mark":{"type":"rect","fillOpacity":0,"stroke":"#262626","strokeWidth":1},"encoding":{"x":{"datum":-10},"x2":{"datum":20},"y":{"datum":-10},"y2":{"datum":20}}},
{"data":{"values":[{}]},"mark":{"type":"text","text":"(b)","fontSize":16,"align":"left","baseline":"middle","dx":-82,"dy":3.5,"color":"#000000"},"encoding":{"x":{"datum":-10},"y":{"datum":20}}},
{"data":{"values":[{}]},"mark":{"type":"text","text":"t","fontSize":16,"fontStyle":"italic","align":"left","baseline":"alphabetic","dx":-25.5,"dy":42},"encoding":{"x":{"datum":5},"y":{"datum":-10}}},
{"data":{"values":[{}]},"mark":{"type":"text","text":"load","fontSize":10.5,"align":"left","baseline":"alphabetic","dx":-20,"dy":44},"encoding":{"x":{"datum":5},"y":{"datum":-10}}},
{"data":{"values":[{}]},"mark":{"type":"text","text":"/","fontSize":16,"align":"left","baseline":"alphabetic","dx":0,"dy":42},"encoding":{"x":{"datum":5},"y":{"datum":-10}}},
{"data":{"values":[{}]},"mark":{"type":"text","text":"τ̄","fontSize":16,"fontStyle":"italic","align":"left","baseline":"alphabetic","dx":9,"dy":42},"encoding":{"x":{"datum":5},"y":{"datum":-10}}},
{"data":{"values":[{}]},"mark":{"type":"text","text":"t","fontSize":16,"fontStyle":"italic","align":"left","baseline":"alphabetic","angle":270,"dx":-33.5,"dy":-45},"encoding":{"x":{"datum":-10},"y":{"datum":5}}},
{"data":{"values":[{}]},"mark":{"type":"text","text":"unload","fontSize":12,"align":"left","baseline":"alphabetic","angle":270,"dx":-23.3,"dy":-43},"encoding":{"x":{"datum":-10},"y":{"datum":5}}},
{"data":{"values":[{}]},"mark":{"type":"text","text":"/","fontSize":16,"align":"left","baseline":"alphabetic","angle":270,"dx":12.5,"dy":-45},"encoding":{"x":{"datum":-10},"y":{"datum":5}}},
{"data":{"values":[{}]},"mark":{"type":"text","text":"τ̄","fontSize":16,"fontStyle":"italic","align":"left","baseline":"alphabetic","angle":270,"dx":21.5,"dy":-45},"encoding":{"x":{"datum":-10},"y":{"datum":5}}}
]
}
]
}
